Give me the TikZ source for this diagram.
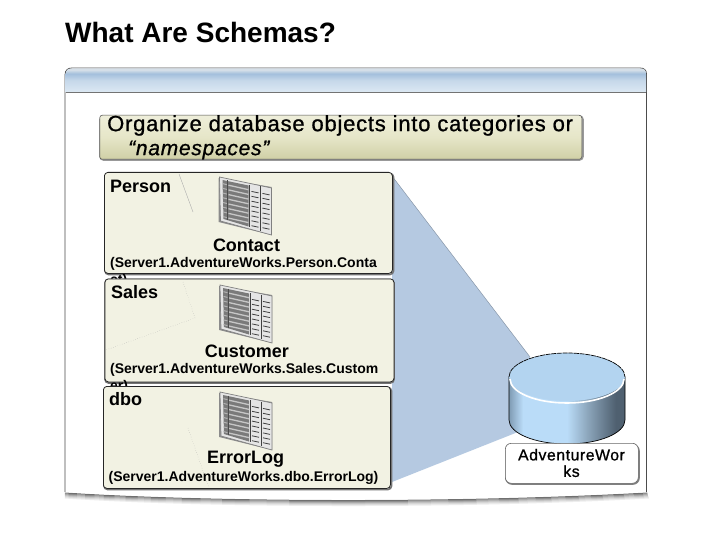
\documentclass[tikz,border=0pt]{standalone}
\usepackage{fontspec}
\setmainfont{Liberation Sans}
\newfontfamily\semifont[FakeBold=0.9,LetterSpace=3.5]{Liberation Sans}
\usetikzlibrary{shadows,calc}
\definecolor{boxfill}{HTML}{F2F2E3}
\definecolor{fanblue}{HTML}{B5C9E1}
\definecolor{topblue}{HTML}{B3D4F0}
\definecolor{bandmid}{HTML}{A3BFDC}
\definecolor{bandlow}{HTML}{DCE8F3}
\definecolor{bandtop}{HTML}{D5DFE8}
\definecolor{cylleft}{HTML}{7F9BB3}
\definecolor{cyllight}{HTML}{BADCF8}
\definecolor{cyldark}{HTML}{4F6070}
\definecolor{orgtop}{HTML}{EEEEDA}
\definecolor{orgmid}{HTML}{E6E6C8}
\definecolor{orglow}{HTML}{D0D0A6}
\pgfdeclarehorizontalshading{cylside}{100bp}{
 color(0bp)=(cylleft); color(25bp)=(cylleft); color(31bp)=(cyllight);
 color(50bp)=(cyllight); color(60bp)=(topblue!75!black); color(71bp)=(cyldark); color(75bp)=(cyldark); color(100bp)=(cyldark)}
\pgfdeclareverticalshading{bandshade}{100bp}{
 color(0bp)=(bandlow); color(25bp)=(bandlow); color(50bp)=(bandlow!60!bandmid); color(64bp)=(bandmid); color(72bp)=(bandtop); color(75bp)=(bandtop); color(100bp)=(bandtop)}
\tikzset{
  x=1pt,y=-1pt,
  schemabox/.style={draw=black!85,line width=.8pt,rounded corners=3.5pt,fill=boxfill,minimum width=#1},
  shadowline/.style={draw=black!55,line width=1.6pt,rounded corners=3.5pt},
  schemaname/.style={font=\fontsize{18}{20}\selectfont\bfseries,anchor=west,inner sep=0},
  tablename/.style={font=\fontsize{18}{20}\selectfont\bfseries,anchor=center,inner sep=0},
  fullname/.style={font=\fontsize{14}{17}\selectfont\bfseries,align=left,anchor=north west,inner sep=0},
  faint/.style={draw=black!35,line width=.35pt}
}
\newcommand{\tableicon}[1]{%
 \begin{scope}[shift={#1}]
  \fill[black!45] (-1,1) -- (52,10) -- (52,58) -- (-1,45) -- cycle;
  \fill[black!10,draw=black!50,line width=.7pt] (0,0) -- (52,11) -- (52,58) -- (1,44) -- cycle;
  \fill[black!52] (3,3) -- (29,8.5) -- (29,49.5) -- (4,42) -- cycle;
  \foreach \i in {1,...,8}{
    \draw[black!22,line width=1.3pt] (9,3.5+\i*4.7) -- (29,8+\i*4.7);
    \draw[black!30,line width=1pt] (3.5,2+\i*4.7) -- (7.5,3+\i*4.7);
    \draw[black!75,line width=.8pt] (32,9.5+\i*4.9) -- (39,11+\i*4.9);
    \draw[black!75,line width=.8pt] (43,11.5+\i*4.9) -- (50,13+\i*4.9);
  }
  \draw[black!70,line width=.9pt] (8,3.5) -- (8,43);
  \draw[black!75,line width=1pt] (30,8) -- (30,50);
  \draw[black!75,line width=1pt] (41,9.5) -- (41,54);
 \end{scope}}
\begin{document}
\begin{tikzpicture}
\useasboundingbox (0,0) rectangle (720,540);
\fill[white] (0,0) rectangle (720,540);
\node[inner sep=0,anchor=west,font=\fontsize{28}{30}\selectfont\bfseries] (title) at (65,32) {What Are Schemas?};
% slide panel soft shadow
\foreach \d/\g in {6/7,5/14,4/22,3/32,2/44,1/56}{
  \draw[black!\g,line width=1pt] (65,492+\d) .. controls (200,501+\d) and (450,503+\d) .. (647+\d*.3,492+\d);
}
\path[fill=white] (72,68) -- (640,68) .. controls (644,68) and (646.5,70) .. (646.5,74) -- (646.5,492) .. controls (450,503) and (200,501) .. (65,492) -- (65,75) .. controls (65,70) and (68,68) .. (72,68) -- cycle;
\draw[black!70,line width=.8pt] (646.5,492) -- (646.5,74) .. controls (646.5,70) and (644,68) .. (640,68) -- (72,68) .. controls (68,68) and (65,70) .. (65,75) -- (65,492);
\path[shading=bandshade] (72,68.5) -- (640,68.5) .. controls (644,68.5) and (646,70) .. (646,74) -- (646,92) -- (65.5,92) -- (65.5,75) .. controls (65.5,70) and (68,68.5) .. (72,68.5) -- cycle;
\draw[black!55,line width=.6pt] (65.5,92) -- (646,92);
% fan
\fill[fanblue] (392,176) -- (530,357) -- (518,432) -- (392,482) -- cycle;
\draw[black!25!fanblue,line width=.5pt] (392,176) -- (530,357);
% organize box
\draw[shadowline,draw=black!40] (100,116) rectangle (583,160);
\node[draw=black!70,line width=.5pt,rounded corners=2.5pt,top color=orgtop,bottom color=orglow,middle color=orgmid,inner sep=0,minimum width=482pt,minimum height=44pt,anchor=north west] (org) at (99.5,115) {};
\node[inner sep=0,anchor=north west,font=\fontsize{22}{24}\semifont,align=left] (orgtext) at (107,115) {Organize database objects into categories or\\\hspace*{21pt}{\fontsize{21}{24}\selectfont\itshape“namespaces”}};
% Person
\draw[shadowline] (105,173.5) rectangle (393.5,274.5);
\node[schemabox=288pt,minimum height=101pt,anchor=north west,inner sep=0] (person) at (104,172) {};
\draw[faint] (179,174) -- (193,212);
\node[schemaname] (personname) at (110,186) {Person};
\tableicon{(219.5,177)}
\node[tablename] (contact) at (246.5,245.5) {Contact};
\node[fullname] (contactfull) at (110,257) {(Server1.AdventureWorks.Person.Conta\\ct)};
% Sales
\draw[shadowline] (105,279.5) rectangle (394,383);
\node[schemabox=289pt,minimum height=103pt,anchor=north west,inner sep=0] (sales) at (104.5,278.5) {};
\draw[faint,dotted] (183,282) -- (195,318) -- (106,350);
\node[schemaname] (salesname) at (111,292) {Sales};
\tableicon{(220,285)}
\node[tablename] (customer) at (247,351.5) {Customer};
\node[fullname] (customerfull) at (110,363) {(Server1.AdventureWorks.Sales.Custom\\er)};
% dbo
\draw[shadowline] (104,387.5) rectangle (391.5,489.5);
\node[schemabox=287pt,minimum height=102pt,anchor=north west,inner sep=0] (dbo) at (103,386) {};
\draw[faint,dotted] (188,428) -- (209,488);
\node[schemaname] (dboname) at (109,399) {dbo};
\tableicon{(220,392)}
\node[tablename] (errorlog) at (245.5,459.5) {ErrorLog};
\node[fullname] (errorlogfull) at (108.5,471) {(Server1.AdventureWorks.dbo.ErrorLog)};
% cylinder
\path[shading=cylside,draw=black,line width=.7pt] (509,377) -- (509,420) arc[start angle=180,end angle=360,x radius=58,y radius=-24] -- (625,377) -- cycle;
\fill[topblue] (567,377) ellipse[x radius=58,y radius=24];
\draw[white,line width=1.6pt] (510,379) arc[start angle=180,end angle=360,x radius=57,y radius=-24];
\draw[black,line width=.7pt,dash pattern=on 5pt off .7pt] (509,377) arc[start angle=180,end angle=0,x radius=58,y radius=-24];
% label
\draw[draw=black!50,line width=1.6pt,rounded corners=6pt] (506,445) rectangle (639,484);
\node[draw=black!60,line width=.6pt,fill=white,rounded corners=6pt,inner sep=0,minimum width=133pt,minimum height=40pt,anchor=north west] (dblabel) at (505,443) {};
\node[inner sep=0,align=center,font=\fontsize{15.8}{16.5}\semifont] (dbtext) at (571.5,463) {AdventureWor\\ks};
\end{tikzpicture}
\end{document}
